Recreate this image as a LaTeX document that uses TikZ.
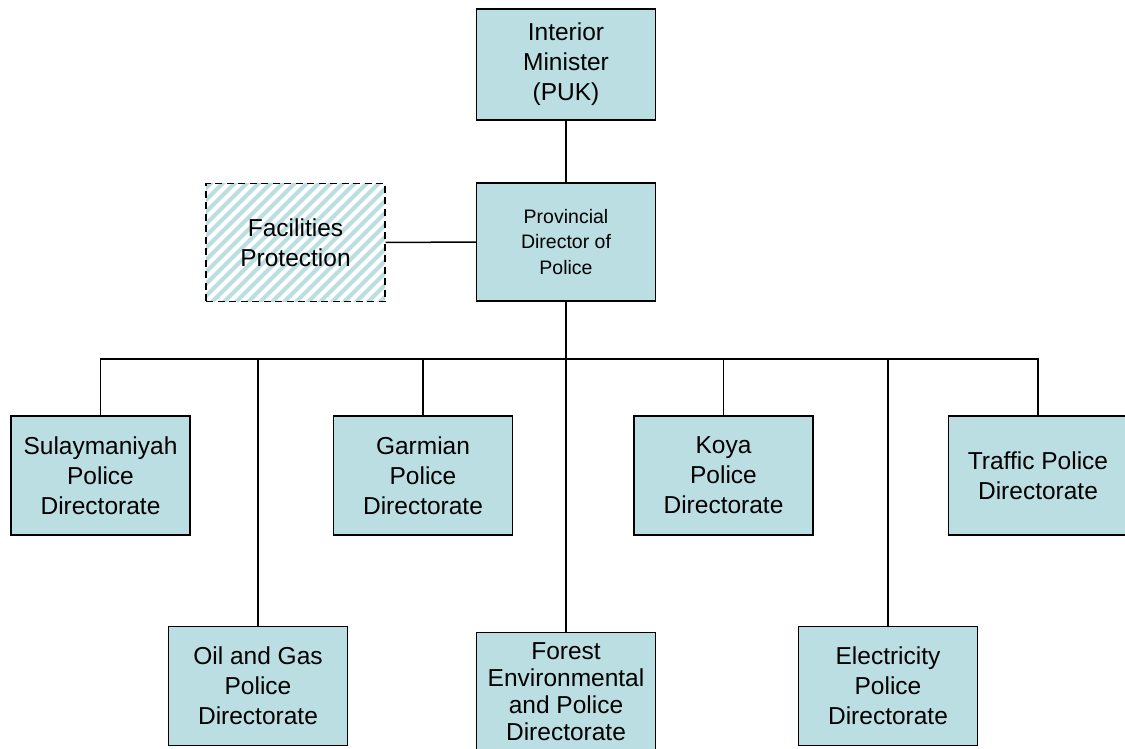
\documentclass[tikz,border=0pt]{standalone}
\usepackage{fontspec}
\setmainfont{Liberation Sans}
\usepackage{tikz}
\usetikzlibrary{positioning}

\definecolor{boxblue}{RGB}{187,222,227}

\tikzset{
  unit/.style={draw,line width=1.3pt,fill=boxblue,align=center,inner sep=0pt,
    minimum width=179pt,minimum height=119pt,font=\fontsize{24.5}{30}\selectfont},
  hatched/.style={fill=white,dash pattern=on 7pt off 4.5pt,
    path picture={\foreach \k in {-16,...,16}
      \draw[boxblue,solid,line width=4pt] ([xshift=\k*12pt-120pt,yshift=-120pt]path picture bounding box.center) -- ++(240pt,240pt);}},
  link/.style={line width=1.5pt}
}

\begin{document}
\begin{tikzpicture}[x=1pt,y=-1pt]
\useasboundingbox (0,0) rectangle (1125,749);
\node[unit,minimum height=111pt] (minister) at (566,64.5) {Interior\\Minister\\(PUK)};
\node[unit,minimum height=118pt,font=\fontsize{19.5}{25.5}\selectfont] (director) at (566,242) {Provincial\\Director of\\Police};
\node[unit,minimum height=118pt,hatched] (facilities) at (295.5,242.5) {Facilities\\Protection};
\coordinate (bus) at (566,359);
\node[unit] (sulaymaniyah) at (100.5,475.5) {Sulaymaniyah\\Police\\Directorate};
\node[unit] (garmian) at (423,475.5) {Garmian\\Police\\Directorate};
\node[unit] (koya) at (723.5,475.5) {Koya\\Police\\Directorate};
\node[unit] (traffic) at (1038,475.5) {Traffic Police\\Directorate};
\node[unit] (oilgas) at (258,686) {Oil and Gas\\Police\\Directorate};
\node[unit,font=\fontsize{24.5}{27}\selectfont] (forest) at (566,692) {Forest\\Environmental\\and Police\\Directorate};
\node[unit] (electricity) at (888,686) {Electricity\\Police\\Directorate};
\draw[link] (minister) -- (director);
\draw[link] (facilities) -- (director);
\draw[link] (director) -- (forest);
\draw[link] (sulaymaniyah.north) |- (bus);
\draw[link] (oilgas.north) |- (bus);
\draw[link] (garmian.north) |- (bus);
\draw[link] (koya.north) |- (bus);
\draw[link] (electricity.north) |- (bus);
\draw[link] (traffic.north) |- (bus);
\end{tikzpicture}
\end{document}
